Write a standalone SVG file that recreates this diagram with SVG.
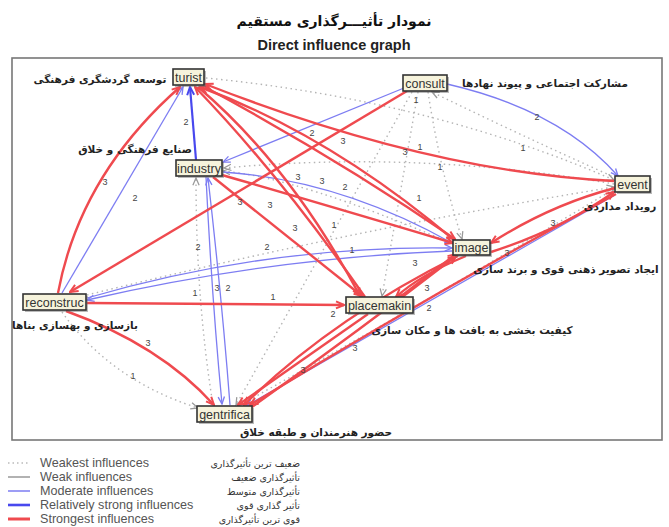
<svg xmlns="http://www.w3.org/2000/svg" width="669" height="527" viewBox="0 0 669 527">
<style>
.r{stroke:#ef4a4f;stroke-width:2.4;fill:none;marker-end:url(#ar)}
.b{stroke:#7d7df2;stroke-width:1.3;fill:none;marker-end:url(#ab)}
.bs{stroke:#4848ee;stroke-width:2.2;fill:none;marker-end:url(#abs)}
.d{stroke:#b4b4b4;stroke-width:1.4;stroke-dasharray:1.5 3.5;fill:none;marker-end:url(#ad)}
.lbl{font-family:"Liberation Sans",Arial,sans-serif;font-size:9px;fill:#444;text-anchor:middle}
.box{fill:#f6f3dc;stroke:#333;stroke-width:1.6}
.sh{fill:#666;opacity:.45}
.nt{font-family:"Liberation Sans",Arial,sans-serif;font-size:12.5px;fill:#333;text-anchor:middle}
.fa{font-family:"DejaVu Sans",sans-serif;font-size:10.5px;font-weight:bold;fill:#222;text-anchor:middle}
.title{font-family:"DejaVu Sans",sans-serif;font-size:14px;font-weight:bold;fill:#111;text-anchor:middle}
.leg{font-family:"Liberation Sans",Arial,sans-serif;font-size:12.6px;fill:#555}
.legfa{font-family:"DejaVu Sans",sans-serif;font-size:9.5px;fill:#333;text-anchor:end}
</style>
<defs>
<marker id="ar" viewBox="0 0 10 10" refX="9" refY="5" markerWidth="10" markerHeight="10" markerUnits="userSpaceOnUse" orient="auto"><path d="M1,1.5 L9,5 L1,8.5" fill="none" stroke="#ef4a4f" stroke-width="2"/></marker>
<marker id="ab" viewBox="0 0 10 10" refX="9" refY="5" markerWidth="9" markerHeight="9" markerUnits="userSpaceOnUse" orient="auto"><path d="M1,1.5 L9,5 L1,8.5" fill="none" stroke="#7d7df2" stroke-width="1.5"/></marker>
<marker id="abs" viewBox="0 0 10 10" refX="9" refY="5" markerWidth="10" markerHeight="10" markerUnits="userSpaceOnUse" orient="auto"><path d="M1,1.5 L9,5 L1,8.5" fill="none" stroke="#4848ee" stroke-width="2"/></marker>
<marker id="ad" viewBox="0 0 10 10" refX="9" refY="5" markerWidth="9" markerHeight="9" markerUnits="userSpaceOnUse" orient="auto"><path d="M1,1.5 L9,5 L1,8.5" fill="none" stroke="#999" stroke-width="1.4"/></marker>
</defs>
<rect width="669" height="527" fill="#fff"/>
<text x="334" y="26" class="title">نمودار تأثیـــرگذاری مستقیم</text>
<text x="334" y="50" font-family="Liberation Sans, Arial, sans-serif" font-size="14.5" font-weight="bold" fill="#222" text-anchor="middle">Direct influence graph</text>
<rect x="12" y="58" width="650" height="382" fill="#fff" stroke="#777" stroke-width="1.6"/>

<g id="connectors">
<!-- weakest dotted -->
<path class="d" d="M206 78 Q430 100 614 180"/>
<path class="d" d="M614 184 Q420 150 224 168"/>
<path class="d" d="M616 178 Q520 135 432 92"/>
<path class="d" d="M428 92 Q440 170 462 239"/>
<path class="d" d="M418 92 L382 296"/>
<path class="d" d="M412 92 L236 405"/>
<path class="d" d="M87 295 Q350 230 614 187"/>
<path class="d" d="M62 312 Q110 380 198 408"/>
<path class="d" d="M213 405 Q196 300 196 178"/>
<path class="d" d="M453 244 Q300 178 223 171"/>
<path class="d" d="M240 405 Q430 300 614 189"/>
<!-- moderate blue -->
<path class="b" d="M62 293 L183 87"/>
<path class="b" d="M404 88 L223 162"/>
<path class="b" d="M447 84 Q560 110 618 176"/>
<path class="b" d="M223 172 Q340 180 452 243"/>
<path class="b" d="M87 298 Q270 245 452 248"/>
<path class="b" d="M452 251 Q270 258 87 300"/>
<path class="b" d="M206 177 Q212 300 222 404"/>
<path class="b" d="M230 405 Q222 300 208 178"/>
<path class="b" d="M615 195 L246 406"/>
<!-- relatively strong -->
<path class="bs" d="M196 160 L190 87"/>
<!-- strongest red -->
<path class="r" d="M58 293 Q80 175 180 87"/>
<path class="r" d="M407 91 L70 292"/>
<path class="r" d="M87 303 L344 305"/>
<path class="r" d="M66 311 Q160 345 214 405"/>
<path class="r" d="M614 181 Q430 172 205 84"/>
<path class="r" d="M454 240 Q330 135 200 87"/>
<path class="r" d="M205 87 Q340 160 455 239"/>
<path class="r" d="M365 297 Q280 175 195 87"/>
<path class="r" d="M198 87 Q290 165 360 296"/>
<path class="r" d="M213 177 L362 296"/>
<path class="r" d="M222 175 Q360 215 453 243"/>
<path class="r" d="M615 188 Q550 205 491 243"/>
<path class="r" d="M491 252 Q560 230 614 192"/>
<path class="r" d="M616 194 Q430 295 250 405"/>
<path class="r" d="M458 256 Q330 320 244 405"/>
<path class="r" d="M252 407 Q360 330 456 256"/>
<path class="r" d="M400 297 L456 254"/>
<path class="r" d="M466 256 Q420 275 396 297"/>
<path class="r" d="M368 314 L238 405"/>
</g>

<g id="edge-labels" class="lbl">
<text x="186" y="125">2</text><text x="105" y="185">3</text><text x="135" y="201">2</text>
<text x="312" y="136">2</text><text x="343" y="144">3</text><text x="298" y="180">3</text>
<text x="322" y="184">3</text><text x="345" y="190">2</text><text x="240" y="205">3</text>
<text x="270" y="208">3</text><text x="295" y="231">3</text><text x="334" y="228">1</text>
<text x="416" y="103">1</text><text x="537" y="120">2</text><text x="420" y="150">1</text>
<text x="405" y="155">3</text><text x="523" y="151">1</text><text x="440" y="170">1</text>
<text x="419" y="201">1</text><text x="198" y="250">2</text><text x="267" y="250">2</text>
<text x="352" y="253">1</text><text x="415" y="266">3</text><text x="553" y="226">3</text>
<text x="507" y="256">3</text><text x="195" y="296">1</text><text x="217" y="291">3</text>
<text x="228" y="291">2</text><text x="273" y="300">1</text><text x="333" y="317">2</text>
<text x="429" y="311">2</text><text x="427" y="291">3</text><text x="148" y="346">3</text>
<text x="133" y="379">1</text><text x="355" y="351">3</text><text x="303" y="373">3</text>
</g>

<g id="turist"><rect class="sh" x="175" y="71" width="31" height="16"/><rect class="box" x="173" y="69" width="31" height="16"/><text class="nt" x="188.5" y="81.5">turist</text></g>
<g id="consult"><rect class="sh" x="405" y="77" width="44" height="16"/><rect class="box" x="403" y="75" width="44" height="16"/><text class="nt" x="425" y="87.5">consult</text></g>
<g id="industry"><rect class="sh" x="178" y="162" width="46" height="16"/><rect class="box" x="176" y="160" width="46" height="16"/><text class="nt" x="199" y="172.5">industry</text></g>
<g id="event"><rect class="sh" x="617" y="178" width="35" height="16"/><rect class="box" x="615" y="176" width="35" height="16"/><text class="nt" x="632.5" y="188.5">event</text></g>
<g id="image"><rect class="sh" x="455" y="242" width="37" height="15"/><rect class="box" x="453" y="240" width="37" height="15"/><text class="nt" x="471.5" y="252">image</text></g>
<g id="reconstru"><rect class="sh" x="25" y="296" width="63" height="16"/><rect class="box" x="23" y="294" width="63" height="16"/><text class="nt" x="54.5" y="306.5">reconstruc</text></g>
<g id="placemakin"><rect class="sh" x="348" y="299" width="67" height="16"/><rect class="box" x="346" y="297" width="67" height="16"/><text class="nt" x="379.5" y="309.5">placemakin</text></g>
<g id="gentrifica"><rect class="sh" x="199" y="408" width="55" height="16"/><rect class="box" x="197" y="406" width="55" height="16"/><text class="nt" x="224.5" y="418.5">gentrifica</text></g>

<g id="persian-labels" class="fa">
<text x="100" y="83">توسعه گردشگری فرهنگی</text>
<text x="135" y="153">صنایع فرهنگی و خلاق</text>
<text x="545" y="87">مشارکت اجتماعی و پیوند نهادها</text>
<text x="620" y="210">رویداد مداردی</text>
<text x="566" y="273">ایجاد تصویر ذهنی قوی و برند سازی</text>
<text x="75" y="329">بازسازی و بهسازی بناها</text>
<text x="472" y="334">کیفیت بخشی به بافت ها و مکان سازی</text>
<text x="316" y="436">حضور هنرمندان و طبقه خلاق</text>
</g>

<g id="legend">
<line x1="8" y1="463" x2="30" y2="463" stroke="#bbb" stroke-width="1.4" stroke-dasharray="1.5 3"/>
<line x1="8" y1="477" x2="30" y2="477" stroke="#888" stroke-width="1.3"/>
<line x1="8" y1="491" x2="30" y2="491" stroke="#7d7df2" stroke-width="1.5"/>
<line x1="8" y1="505" x2="30" y2="505" stroke="#4848ee" stroke-width="2.6"/>
<line x1="8" y1="519" x2="30" y2="519" stroke="#ef4a4f" stroke-width="3"/>
<text class="leg" x="40" y="467">Weakest influences</text>
<text class="leg" x="40" y="481">Weak influences</text>
<text class="leg" x="40" y="495">Moderate influences</text>
<text class="leg" x="40" y="509">Relatively strong influences</text>
<text class="leg" x="40" y="523">Strongest influences</text>
<text class="legfa" x="300" y="467">ضعیف ترین تأثیرگذاری</text>
<text class="legfa" x="300" y="481">تأثیرگذاری ضعیف</text>
<text class="legfa" x="300" y="495">تأثیرگذاری متوسط</text>
<text class="legfa" x="300" y="509">تأثیر گذاری قوی</text>
<text class="legfa" x="300" y="523">قوی ترین تأثیرگذاری</text>
</g>
</svg>
